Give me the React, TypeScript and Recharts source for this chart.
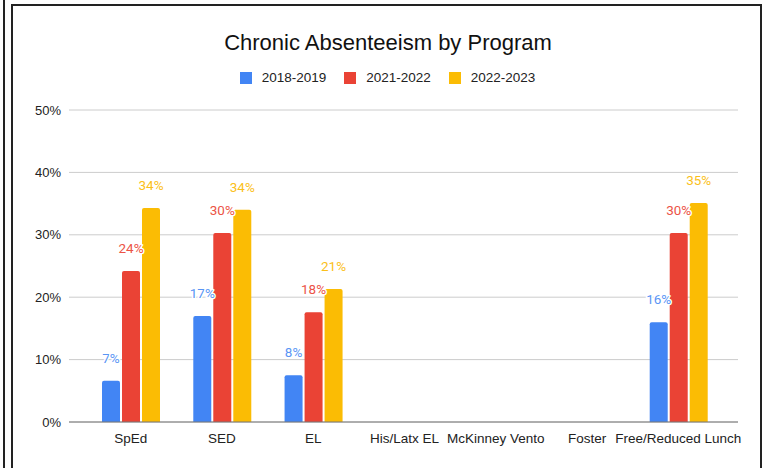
import React from 'react';
import { Bar, BarChart, CartesianGrid, LabelList, XAxis, YAxis } from 'recharts';

const programs = ['SpEd', 'SED', 'EL', 'His/Latx EL', 'McKinney Vento', 'Foster', 'Free/Reduced Lunch'];
const y2018 = [6.6, 17.0, 7.5, null, null, null, 16.0];
const y2021 = [24.2, 30.3, 17.6, null, null, null, 30.3];
const y2022 = [34.3, 34.0, 21.3, null, null, null, 35.1];
const yTicks = [0, 10, 20, 30, 40, 50];

const series = [
  { key: 'y2018', name: '2018-2019', color: '#4285F4', labelColor: '#5A95F5' },
  { key: 'y2021', name: '2021-2022', color: '#EA4335', labelColor: '#EC5346' },
  { key: 'y2022', name: '2022-2023', color: '#FBBC04', labelColor: '#FBBF1A' },
];

const data = programs.map((p, i) => ({ program: p, y2018: y2018[i], y2021: y2021[i], y2022: y2022[i] }));

const sans = '"Liberation Sans", Arial, sans-serif';

function makeLabel(color: string) {
  return (props: any) => {
    const { x, y, width, value } = props;
    if (value == null) return null;
    return (
      <text
        x={x + width / 2}
        y={y - 18}
        textAnchor="middle"
        fill={color}
        fontSize={13.5}
        fontFamily="Roboto, sans-serif"
        stroke="#fff"
        strokeWidth={3}
        paintOrder="stroke"
      >
        {Math.round(value)}%
      </text>
    );
  };
}

function LegendBox() {
  return (
    <div style={{ display: 'flex', justifyContent: 'center', fontFamily: sans, fontSize: 13.5, color: '#222' }}>
      {series.map((s, i) => (
        <div key={s.key} style={{ display: 'flex', alignItems: 'center', marginLeft: i ? 18 : 0 }}>
          <span style={{ width: 12, height: 12, background: s.color, display: 'inline-block', marginRight: 10 }} />
          <span>{s.name}</span>
        </div>
      ))}
    </div>
  );
}

export default function App() {
  return (
    <div style={{ position: 'absolute', left: 0, top: 0, width: 767, height: 468, overflow: 'hidden', background: '#fff' }}>
      <div style={{ position: 'absolute', left: 3, top: 0, width: 2, height: 468, background: '#222' }} />
      <div
        style={{
          position: 'absolute',
          left: 11,
          top: 4,
          width: 747,
          height: 500,
          border: '2px solid #222',
        }}
      />
      <div
        style={{
          position: 'absolute',
          left: 0,
          top: 30,
          width: 776,
          textAlign: 'center',
          fontFamily: sans,
          fontSize: 22,
          color: '#111',
        }}
      >
        Chronic Absenteeism by Program
      </div>
      <div style={{ position: 'absolute', left: 0, top: 70, width: 775 }}>
        <LegendBox />
      </div>
      <div style={{ position: 'absolute', left: 0, top: 0 }}>
        <BarChart
          width={767}
          height={468}
          data={data}
          margin={{ top: 110, right: 29, left: 0, bottom: 0 }}
          barSize={18}
          barGap={2}
        >
          <CartesianGrid vertical={false} stroke="#cccccc" />
          <XAxis
            dataKey="program"
            height={46}
            padding={{ left: 16, right: 14 }}
            axisLine={{ stroke: '#777' }}
            tickLine={false}
            interval={0}
            tick={{ fill: '#222', fontSize: 13.5, fontFamily: sans }}
            tickMargin={5}
          />
          <YAxis
            width={69}
            domain={[0, 50]}
            ticks={yTicks}
            tickFormatter={(v: number) => `${v}%`}
            axisLine={false}
            tickLine={false}
            tick={{ fill: '#222', fontSize: 13, fontFamily: sans }}
          />
          {series.map((s) => (
            <Bar key={s.key} dataKey={s.key} name={s.name} fill={s.color} radius={[2, 2, 0, 0]} isAnimationActive={false}>
              <LabelList dataKey={s.key} content={makeLabel(s.labelColor)} />
            </Bar>
          ))}
        </BarChart>
      </div>
    </div>
  );
}
